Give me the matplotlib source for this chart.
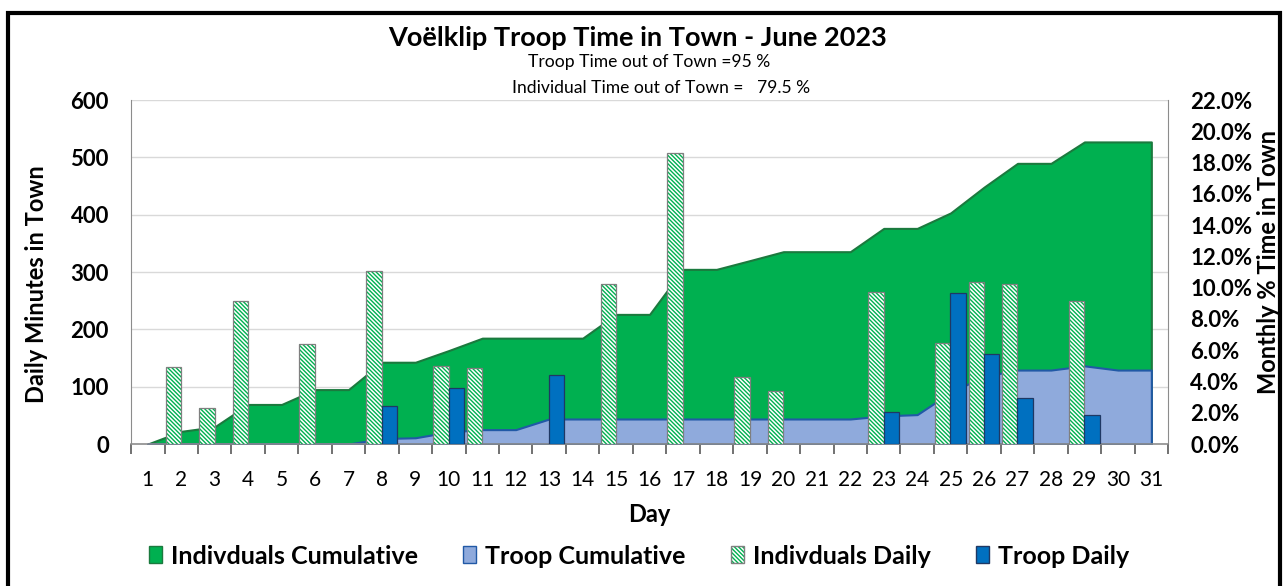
import numpy as np
import matplotlib.pyplot as plt
from matplotlib.patches import Patch, Rectangle
from matplotlib.ticker import FuncFormatter

plt.rcParams['font.family'] = ['Lato', 'DejaVu Sans']
plt.rcParams['hatch.linewidth'] = 1.0

# data
days = np.arange(1, 32)
indiv_daily = [0, 135, 62, 250, 0, 175, 0, 302, 0, 136, 132, 0, 0, 0, 279, 0,
               508, 0, 117, 92, 0, 0, 265, 0, 177, 283, 279, 0, 250, 0, 0]
troop_daily = [0, 0, 0, 0, 0, 0, 0, 66, 0, 97, 0, 0, 121, 0, 0, 0,
               0, 0, 0, 0, 0, 0, 56, 0, 264, 157, 81, 0, 50, 0, 0]
# cumulative series are on the secondary axis (% of month)
indiv_cum_pct = [0, 0.81, 1.10, 2.53, 2.53, 3.48, 3.48, 5.23, 5.23, 5.98, 6.77,
                 6.77, 6.77, 6.77, 8.29, 8.29, 11.17, 11.17, 11.73, 12.30, 12.30,
                 12.30, 13.79, 13.79, 14.78, 16.43, 17.95, 17.95, 19.32, 19.32, 19.32]
troop_cum_pct = [0, 0, 0, 0, 0, 0, 0, 0.35, 0.40, 0.77, 0.92, 0.92, 1.60,
                 1.60, 1.60, 1.60, 1.60, 1.60, 1.60, 1.60, 1.60, 1.60,
                 1.80, 1.88, 3.30, 4.33, 4.73, 4.73, 5.00, 4.73, 4.73]
left_ticks = np.arange(0, 601, 100)
right_ticks = np.arange(0, 23, 2)

title = "Voëlklip Troop Time in Town - June 2023"
sub1 = "Troop Time out of Town =95 %"
sub2 = "Individual Time out of Town =   79.5 %"

green = '#00B050'
green_edge = '#1B7A3E'
lblue = '#8FAADC'
lblue_edge = '#2159A6'
dblue = '#0070C0'
dblue_edge = '#1F3864'
hatch = '\\\\\\\\\\\\\\\\'

fig = plt.figure(figsize=(12.85, 5.86), dpi=100)
ax = fig.add_axes([0.102, 0.2423, 0.807, 0.587])
ax2 = ax.twinx()
ax.set_zorder(ax2.get_zorder() + 1)
ax.patch.set_visible(False)

# grid follows the left axis, drawn under the areas
ax2.hlines(left_ticks[1:], 0, 1, transform=ax.get_yaxis_transform(),
           color='#D9D9D9', lw=1, zorder=0)

ax2.fill_between(days, indiv_cum_pct, facecolor=green, edgecolor=green_edge,
                 lw=1.5, zorder=2)
ax2.fill_between(days, troop_cum_pct, facecolor=lblue, edgecolor=lblue_edge,
                 lw=1.5, zorder=3)
ax2.set_ylim(0, 22)
ax2.set_yticks(right_ticks)
ax2.yaxis.set_major_formatter(FuncFormatter(lambda v, p: f'{v:.1f}%'))
ax2.tick_params(axis='y', length=0, labelsize=16, pad=16)
for lab in ax2.get_yticklabels():
    lab.set_fontweight('bold')
for s in ['top', 'left', 'bottom']:
    ax2.spines[s].set_visible(False)
ax2.spines['right'].set_color('#8C8C8C')

# daily bars
ind = np.array(indiv_daily)
trp = np.array(troop_daily)
w = 0.46
m1 = ind > 0
ax.bar(days[m1] - 0.235, ind[m1], w, facecolor='white', edgecolor=green,
       hatch=hatch, lw=0, zorder=3)
ax.bar(days[m1] - 0.235, ind[m1], w, fill=False, edgecolor='#7F7F7F',
       lw=0.9, zorder=4)
m2 = trp > 0
ax.bar(days[m2] + 0.225, trp[m2], w, facecolor=dblue, edgecolor=dblue_edge,
       lw=0.9, zorder=4)

ax.set_xlim(0.5, 31.5)
ax.set_ylim(0, 600)
ax.set_yticks(left_ticks)
ax.tick_params(axis='y', length=0, labelsize=16, pad=16)
for lab in ax.get_yticklabels():
    lab.set_fontweight('bold')
ax.set_xticks(days)
ax.set_xticks(np.arange(0.5, 32, 1), minor=True)
ax.tick_params(axis='x', which='major', length=0, labelsize=15, pad=19)
ax.tick_params(axis='x', which='minor', length=7, width=1.2, color='#595959')
for s in ['top', 'right']:
    ax.spines[s].set_visible(False)
ax.spines['left'].set_color('#8C8C8C')
ax.spines['bottom'].set_color('#8C8C8C')
ax.spines['bottom'].set_linewidth(1.2)

# texts
fig.text(638 / 1285, 1 - 38 / 586, title, ha='center', va='center',
         fontsize=19.5, fontweight='bold')
fig.text(649 / 1285, 1 - 62 / 586, sub1, ha='center', va='center', fontsize=12.6)
fig.text(661 / 1285, 1 - 88 / 586, sub2, ha='center', va='center', fontsize=12.6)
fig.text(37 / 1285, 1 - 284 / 586, 'Daily Minutes in Town', rotation=90,
         ha='center', va='center', fontsize=17, fontweight='bold')
fig.text(1269 / 1285, 1 - 262 / 586, 'Monthly % Time in Town', rotation=90,
         ha='center', va='center', fontsize=17, fontweight='bold')
fig.text(649 / 1285, 1 - 515 / 586, 'Day', ha='center', va='center',
         fontsize=17, fontweight='bold')

# legend
handles = [
    Patch(facecolor=green, edgecolor=green_edge),
    Patch(facecolor=lblue, edgecolor=lblue_edge),
    (Patch(facecolor='white', edgecolor=green, hatch=hatch, lw=0),
     Patch(fill=False, edgecolor='#7F7F7F')),
    Patch(facecolor=dblue, edgecolor=dblue_edge),
]
labels = ['Indivduals Cumulative', 'Troop Cumulative', 'Indivduals Daily', 'Troop Daily']
leg = fig.legend(handles, labels, loc='center', ncol=4,
                 bbox_to_anchor=(639 / 1285, 1 - 556 / 586), frameon=False,
                 handlelength=0.52, handleheight=0.68, handletextpad=0.36,
                 columnspacing=1.8, prop={'size': 18, 'weight': 'bold'})

# outer chart border
fig.patches.append(Rectangle((8 / 1285, -0.05), 1272 / 1285, 0.05 + 1 - 13 / 586,
                             transform=fig.transFigure, fill=False,
                             edgecolor='black', lw=3, clip_on=False))

fig.savefig('out.png', dpi=100)
